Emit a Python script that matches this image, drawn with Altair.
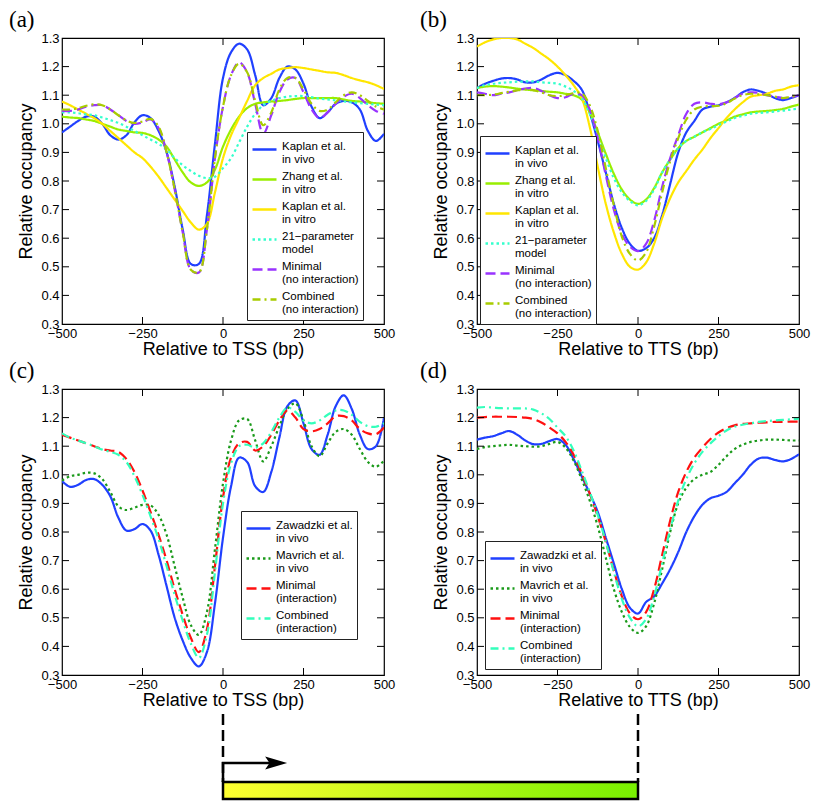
import altair as alt
import pandas as pd

# ---------------- data ----------------
X = [-500 + 25 * i for i in range(41)]
X_TICKS = [-500, -250, 0, 250, 500]
Y_TICKS = [0.3, 0.4, 0.5, 0.6, 0.7, 0.8, 0.9, 1.0, 1.1, 1.2, 1.3]
INNER_X_TICKS = [-250, 0, 250]
INNER_Y_TICKS = [0.4, 0.5, 0.6, 0.7, 0.8, 0.9, 1.0, 1.1, 1.2]

NAMES_AB = ["Kaplan et al.|in vivo", "Zhang et al.|in vitro", "Kaplan et al.|in vitro",
            "21\u2212parameter|model", "Minimal|(no interaction)", "Combined|(no interaction)"]
COLORS_AB = ["#2040ff", "#99ee00", "#ffe600", "#33ffcc", "#9933ff", "#a8cc00"]
DASHES_AB = [[1, 0], [1, 0], [1, 0], [2.5, 3], [10, 5], [8, 4, 2, 4]]

NAMES_CD = ["Zawadzki et al.|in vivo", "Mavrich et al.|in vivo",
            "Minimal|(interaction)", "Combined|(interaction)"]
COLORS_CD = ["#2040ff", "#1a9a1a", "#ff1010", "#33ffbb"]
DASHES_CD = [[1, 0], [2.5, 3], [10, 5], [8, 4, 2, 4]]

# panel (a) relative to TSS
A_KAPLAN_VIVO = [0.970, 0.990, 1.010, 1.025, 1.025, 1.000, 0.960, 0.945, 0.960, 1.005, 1.030,
                 1.020, 0.975, 0.900, 0.780, 0.630, 0.510, 0.510, 0.680, 0.930, 1.160, 1.250,
                 1.280, 1.260, 1.170, 1.065, 1.090, 1.160, 1.200, 1.190, 1.140, 1.060, 1.020,
                 1.040, 1.070, 1.080, 1.075, 1.050, 0.975, 0.940, 0.965]
A_ZHANG_VITRO = [1.025, 1.022, 1.020, 1.015, 1.010, 1.000, 0.990, 0.980, 0.975, 0.970, 0.968,
                 0.960, 0.945, 0.920, 0.875, 0.830, 0.795, 0.783, 0.795, 0.840, 0.920, 0.980,
                 1.025, 1.055, 1.070, 1.075, 1.078, 1.080, 1.083, 1.087, 1.090, 1.090, 1.090,
                 1.090, 1.090, 1.085, 1.080, 1.078, 1.075, 1.072, 1.070]
A_KAPLAN_VITRO = [1.078, 1.065, 1.050, 1.035, 1.020, 1.000, 0.975, 0.950, 0.925, 0.900, 0.880,
                  0.850, 0.815, 0.775, 0.735, 0.695, 0.655, 0.630, 0.650, 0.760, 0.880, 0.960,
                  1.020, 1.080, 1.135, 1.160, 1.175, 1.190, 1.195, 1.198, 1.195, 1.190, 1.185,
                  1.180, 1.178, 1.170, 1.160, 1.152, 1.145, 1.135, 1.122]
A_MODEL21 = [1.040, 1.040, 1.037, 1.033, 1.030, 1.022, 1.013, 1.003, 0.990, 0.975, 0.960,
             0.945, 0.930, 0.910, 0.880, 0.855, 0.835, 0.818, 0.810, 0.815, 0.845, 0.880,
             0.935, 0.990, 1.035, 1.065, 1.080, 1.090, 1.095, 1.097, 1.097, 1.093, 1.088,
             1.085, 1.082, 1.078, 1.075, 1.072, 1.070, 1.067, 1.065]
A_MINIMAL = [1.045, 1.045, 1.050, 1.060, 1.065, 1.065, 1.050, 1.030, 1.010, 1.000, 1.005,
             1.015, 0.985, 0.900, 0.770, 0.620, 0.490, 0.480, 0.630, 0.880, 1.060, 1.170,
             1.215, 1.180, 1.070, 0.965, 1.030, 1.110, 1.155, 1.160, 1.110, 1.050, 1.020,
             1.040, 1.070, 1.095, 1.105, 1.090, 1.065, 1.045, 1.035]
A_COMBINED = [1.050, 1.050, 1.055, 1.063, 1.068, 1.065, 1.050, 1.030, 1.012, 1.003, 1.008,
              1.017, 0.990, 0.900, 0.770, 0.620, 0.490, 0.480, 0.630, 0.880, 1.060, 1.170,
              1.210, 1.180, 1.080, 0.995, 1.040, 1.120, 1.160, 1.160, 1.120, 1.070, 1.045,
              1.050, 1.075, 1.100, 1.110, 1.100, 1.080, 1.060, 1.050]

# panel (b) relative to TTS
B_KAPLAN_VIVO = [1.125, 1.140, 1.150, 1.158, 1.160, 1.155, 1.145, 1.145, 1.155, 1.170, 1.178,
                 1.170, 1.150, 1.120, 1.040, 0.940, 0.830, 0.720, 0.635, 0.580, 0.556, 0.565,
                 0.600, 0.680, 0.790, 0.900, 0.970, 1.010, 1.050, 1.060, 1.065, 1.075, 1.090,
                 1.110, 1.120, 1.115, 1.105, 1.090, 1.083, 1.090, 1.100]
B_ZHANG_VITRO = [1.125, 1.130, 1.132, 1.130, 1.127, 1.123, 1.120, 1.117, 1.115, 1.112, 1.110,
                 1.105, 1.100, 1.085, 1.040, 0.970, 0.895, 0.825, 0.770, 0.735, 0.720, 0.735,
                 0.775, 0.830, 0.875, 0.915, 0.940, 0.955, 0.970, 0.985, 1.000, 1.012, 1.025,
                 1.033, 1.040, 1.043, 1.045, 1.048, 1.052, 1.060, 1.067]
B_KAPLAN_VITRO = [1.270, 1.285, 1.295, 1.300, 1.300, 1.295, 1.280, 1.265, 1.245, 1.225, 1.200,
                  1.170, 1.135, 1.090, 0.990, 0.850, 0.720, 0.620, 0.545, 0.500, 0.490, 0.515,
                  0.580, 0.670, 0.740, 0.795, 0.835, 0.875, 0.910, 0.950, 0.985, 1.020, 1.050,
                  1.075, 1.095, 1.100, 1.105, 1.115, 1.120, 1.130, 1.135]
B_MODEL21 = [1.125, 1.135, 1.140, 1.143, 1.145, 1.147, 1.148, 1.148, 1.145, 1.143, 1.140,
             1.130, 1.115, 1.090, 1.035, 0.960, 0.880, 0.810, 0.760, 0.730, 0.715, 0.730,
             0.770, 0.830, 0.875, 0.915, 0.940, 0.955, 0.970, 0.982, 0.995, 1.008, 1.020,
             1.028, 1.035, 1.038, 1.040, 1.043, 1.046, 1.050, 1.053]
B_MINIMAL = [1.110, 1.105, 1.100, 1.105, 1.110, 1.117, 1.123, 1.125, 1.115, 1.100, 1.090,
             1.093, 1.105, 1.100, 1.050, 0.950, 0.820, 0.700, 0.615, 0.570, 0.555, 0.580,
             0.660, 0.780, 0.880, 0.960, 1.035, 1.070, 1.075, 1.070, 1.068, 1.075, 1.090,
             1.105, 1.110, 1.108, 1.100, 1.095, 1.090, 1.093, 1.100]
B_COMBINED = [1.100, 1.100, 1.102, 1.107, 1.112, 1.117, 1.120, 1.118, 1.110, 1.100, 1.097,
              1.100, 1.107, 1.107, 1.065, 0.975, 0.845, 0.715, 0.605, 0.545, 0.522, 0.550,
              0.640, 0.760, 0.870, 0.950, 1.015, 1.050, 1.060, 1.062, 1.063, 1.072, 1.088,
              1.100, 1.105, 1.103, 1.100, 1.095, 1.090, 1.095, 1.100]

# panel (c) relative to TSS
C_ZAWADZKI = [0.978, 0.958, 0.965, 0.982, 0.985, 0.965, 0.925, 0.850, 0.805, 0.810, 0.828,
              0.805, 0.720, 0.610, 0.500, 0.420, 0.360, 0.330, 0.380, 0.550, 0.780, 0.960,
              1.060, 1.045, 0.960, 0.940, 1.010, 1.130, 1.240, 1.260, 1.180, 1.090, 1.070,
              1.140, 1.240, 1.278, 1.230, 1.140, 1.090, 1.100, 1.200]
C_MAVRICH = [0.980, 0.995, 1.000, 1.007, 1.005, 0.985, 0.940, 0.890, 0.877, 0.885, 0.895,
             0.893, 0.860, 0.790, 0.680, 0.570, 0.475, 0.440, 0.520, 0.740, 0.970, 1.120,
             1.190, 1.195, 1.120, 1.047, 1.100, 1.170, 1.230, 1.250, 1.190, 1.100, 1.065,
             1.110, 1.150, 1.160, 1.140, 1.090, 1.045, 1.028, 1.050]
C_MINIMAL = [1.140, 1.130, 1.120, 1.110, 1.100, 1.090, 1.085, 1.080, 1.055, 1.010, 0.945,
             0.870, 0.790, 0.700, 0.600, 0.510, 0.430, 0.380, 0.460, 0.680, 0.920, 1.060,
             1.110, 1.115, 1.085, 1.100, 1.140, 1.190, 1.225, 1.200, 1.160, 1.152, 1.160,
             1.180, 1.205, 1.205, 1.190, 1.160, 1.145, 1.142, 1.165]
C_COMBINED = [1.145, 1.130, 1.120, 1.110, 1.100, 1.088, 1.080, 1.070, 1.045, 0.995, 0.930,
              0.855, 0.775, 0.680, 0.580, 0.490, 0.410, 0.360, 0.440, 0.660, 0.900, 1.040,
              1.100, 1.105, 1.095, 1.110, 1.150, 1.200, 1.235, 1.220, 1.190, 1.180, 1.190,
              1.210, 1.225, 1.225, 1.210, 1.185, 1.170, 1.168, 1.180]

# panel (d) relative to TTS
D_ZAWADZKI = [1.123, 1.130, 1.135, 1.145, 1.153, 1.140, 1.120, 1.107, 1.108, 1.118, 1.125,
              1.105, 1.055, 0.995, 0.935, 0.870, 0.780, 0.690, 0.600, 0.535, 0.515, 0.555,
              0.575, 0.620, 0.670, 0.730, 0.800, 0.855, 0.895, 0.918, 0.927, 0.940, 0.970,
              1.000, 1.035, 1.057, 1.060, 1.052, 1.047, 1.055, 1.072]
D_MAVRICH = [1.090, 1.097, 1.100, 1.103, 1.105, 1.102, 1.100, 1.098, 1.100, 1.108, 1.115,
             1.095, 1.050, 0.985, 0.910, 0.820, 0.710, 0.600, 0.520, 0.468, 0.447, 0.470,
             0.550, 0.670, 0.800, 0.900, 0.955, 0.985, 1.000, 1.010, 1.035, 1.065, 1.090,
             1.105, 1.115, 1.120, 1.123, 1.123, 1.122, 1.120, 1.120]
D_MINIMAL = [1.200, 1.202, 1.203, 1.203, 1.203, 1.202, 1.200, 1.195, 1.183, 1.165, 1.145,
             1.115, 1.070, 1.005, 0.935, 0.855, 0.765, 0.665, 0.575, 0.515, 0.495, 0.520,
             0.600, 0.720, 0.840, 0.940, 1.010, 1.060, 1.095, 1.125, 1.148, 1.163, 1.173,
             1.178, 1.180, 1.182, 1.183, 1.185, 1.185, 1.186, 1.186]
D_COMBINED = [1.235, 1.237, 1.235, 1.233, 1.232, 1.232, 1.232, 1.228, 1.215, 1.195, 1.165,
              1.135, 1.085, 1.015, 0.940, 0.860, 0.765, 0.660, 0.565, 0.500, 0.470, 0.495,
              0.575, 0.690, 0.810, 0.910, 0.985, 1.040, 1.080, 1.110, 1.135, 1.155, 1.168,
              1.175, 1.180, 1.185, 1.188, 1.190, 1.192, 1.194, 1.196]

# ---------------- layout / style ----------------
W, H = 322, 286
COL_SP, ROW_SP = 93, 65
FONT = "Liberation Sans"

# gene schematic under panel (c): TSS at x=0 of (c), TTS at x=0 of (d), in (c)'s bp units
TTS_X = (W + COL_SP + W / 2) / W * 1000 - 500


def below(px):
    """y value lying px pixels under the bottom of a panel."""
    return 0.3 - px / H


GUIDE_TOP, ARROW_LEVEL, BAR_TOP, BAR_BOTTOM = below(39), below(88), below(107), below(124)
ARROW_SHAFT_END, ARROW_HEAD_X = 150, 165

XS = alt.Scale(domain=[-500, 500], nice=False, zero=False)
YS = alt.Scale(domain=[0.3, 1.3], nice=False, zero=False)


def x_enc(title):
    return alt.X("x:Q", scale=XS,
                 axis=alt.Axis(values=X_TICKS, title=title, labelFlush=False, labelOverlap=False,
                               labelPadding=3, titlePadding=0))


def y_enc():
    return alt.Y("y:Q", scale=YS,
                 axis=alt.Axis(values=Y_TICKS, format=".1f", title="Relative occupancy",
                               labelFlush=False, labelOverlap=False, labelPadding=3,
                               titlePadding=5))


def make_panel(series, names, colors, dashes, xtitle, label, lx, ly, label_dx, extra=None):
    rows = []
    for name, vals in zip(names, series):
        for xv, yv in zip(X, vals):
            rows.append({"x": xv, "y": yv, "series": name})
    df = pd.DataFrame(rows)

    leg = alt.Legend(orient="none", legendX=lx, legendY=ly, title=None, symbolType="stroke",
                     labelExpr="split(datum.label, '|')", labelBaseline="alphabetic")

    lines = alt.Chart(df).mark_line(strokeWidth=2.2, interpolate="catmull-rom", clip=True).encode(
        x=x_enc(xtitle), y=y_enc(),
        color=alt.Color("series:N", scale=alt.Scale(domain=names, range=colors), legend=leg),
        strokeDash=alt.StrokeDash("series:N", scale=alt.Scale(domain=names, range=dashes),
                                  legend=leg),
    )

    xt = pd.DataFrame({"x": INNER_X_TICKS})
    yt = pd.DataFrame({"y": INNER_Y_TICKS})
    tick_len = 7
    t_bottom = alt.Chart(xt).mark_rule(color="black", strokeWidth=1).encode(
        x=x_enc(xtitle), y=alt.value(H), y2=alt.value(H - tick_len))
    t_top = alt.Chart(xt).mark_rule(color="black", strokeWidth=1).encode(
        x=x_enc(xtitle), y=alt.value(0), y2=alt.value(tick_len))
    t_left = alt.Chart(yt).mark_rule(color="black", strokeWidth=1).encode(
        y=y_enc(), x=alt.value(0), x2=alt.value(tick_len))
    t_right = alt.Chart(yt).mark_rule(color="black", strokeWidth=1).encode(
        y=y_enc(), x=alt.value(W), x2=alt.value(W - tick_len))

    layers = [lines, t_bottom, t_top, t_left, t_right]
    if extra:
        layers += [e(xtitle) for e in extra]
    return alt.layer(*layers).properties(
        width=W, height=H,
        title=alt.TitleParams(label, anchor="start", frame="group", font="Liberation Serif",
                              fontSize=23, fontWeight="normal", color="black", dx=label_dx,
                              offset=0),
    )


# gene schematic layers (drawn in panel c's coordinates)
GUIDES = pd.DataFrame({"x": [0, TTS_X], "y": [GUIDE_TOP, GUIDE_TOP], "y2": [BAR_TOP, BAR_TOP]})
ARROW_PATH = pd.DataFrame({"x": [0, 0, ARROW_SHAFT_END],
                           "y": [BAR_TOP, ARROW_LEVEL, ARROW_LEVEL], "o": [0, 1, 2]})
ARROW_HEAD = pd.DataFrame({"x": [ARROW_HEAD_X], "y": [ARROW_LEVEL]})
GENE = pd.DataFrame({"x": [0], "x2": [TTS_X], "y": [BAR_TOP], "y2": [BAR_BOTTOM]})


def guide_rules(t):
    return alt.Chart(GUIDES).mark_rule(color="black", strokeWidth=2.5, strokeDash=[11, 5],
                                       clip=False).encode(x=x_enc(t), y=y_enc(), y2="y2:Q")


def arrow_line(t):
    return alt.Chart(ARROW_PATH).mark_line(color="black", strokeWidth=2.5, clip=False).encode(
        x=x_enc(t), y=y_enc(), order="o:Q")


def arrow_head(t):
    return alt.Chart(ARROW_HEAD).mark_point(
        shape="M1,0L-1,-0.6L-0.6,0L-1,0.6Z", size=484, filled=True, color="black", opacity=1,
        strokeWidth=0, clip=False).encode(x=x_enc(t), y=y_enc())


def gene_bar(t):
    return alt.Chart(GENE).mark_rect(
        fill=alt.Gradient(gradient="linear", x1=0, x2=1, y1=0, y2=0,
                          stops=[alt.GradientStop(color="#ffff30", offset=0),
                                 alt.GradientStop(color="#78f000", offset=1)]),
        stroke="black", strokeWidth=2.5, clip=False).encode(
        x=x_enc(t), x2="x2:Q", y=y_enc(), y2="y2:Q")


pa = make_panel([A_KAPLAN_VIVO, A_ZHANG_VITRO, A_KAPLAN_VITRO, A_MODEL21, A_MINIMAL, A_COMBINED],
                NAMES_AB, COLORS_AB, DASHES_AB, "Relative to TSS (bp)", "(a)", 185, 94, -53)
pb = make_panel([B_KAPLAN_VIVO, B_ZHANG_VITRO, B_KAPLAN_VITRO, B_MODEL21, B_MINIMAL, B_COMBINED],
                NAMES_AB, COLORS_AB, DASHES_AB, "Relative to TTS (bp)", "(b)", 3, 98, -57)
pc = make_panel([C_ZAWADZKI, C_MAVRICH, C_MINIMAL, C_COMBINED],
                NAMES_CD, COLORS_CD, DASHES_CD, "Relative to TSS (bp)", "(c)", 179, 122, -53,
                extra=[guide_rules, gene_bar, arrow_line, arrow_head])
pd_ = make_panel([D_ZAWADZKI, D_MAVRICH, D_MINIMAL, D_COMBINED],
                 NAMES_CD, COLORS_CD, DASHES_CD, "Relative to TTS (bp)", "(d)", 8, 152, -57)

chart = alt.concat(pa, pb, pc, pd_, columns=2,
                   spacing={"row": ROW_SP, "column": COL_SP}, bounds="flush").resolve_scale(
    color="independent", strokeDash="independent"
).resolve_legend(
    color="independent", strokeDash="independent"
).properties(
    padding=0, background="white"
).configure_view(stroke="black", strokeWidth=1.2).configure_axis(
    grid=False, domain=False, ticks=False, tickSize=0, labelFont=FONT, titleFont=FONT,
    labelFontSize=13, titleFontSize=18, titleFontWeight="normal", labelColor="black",
    titleColor="black", labelOverlap=False
).configure_legend(
    labelFont=FONT, labelFontSize=11.5, labelColor="black", labelLimit=300, symbolSize=576,
    symbolStrokeWidth=2.5, padding=4, rowPadding=0, labelOffset=4, strokeColor="#222",
    fillColor="white"
)

chart.save("out.html", embed_options={"renderer": "svg", "actions": False})
